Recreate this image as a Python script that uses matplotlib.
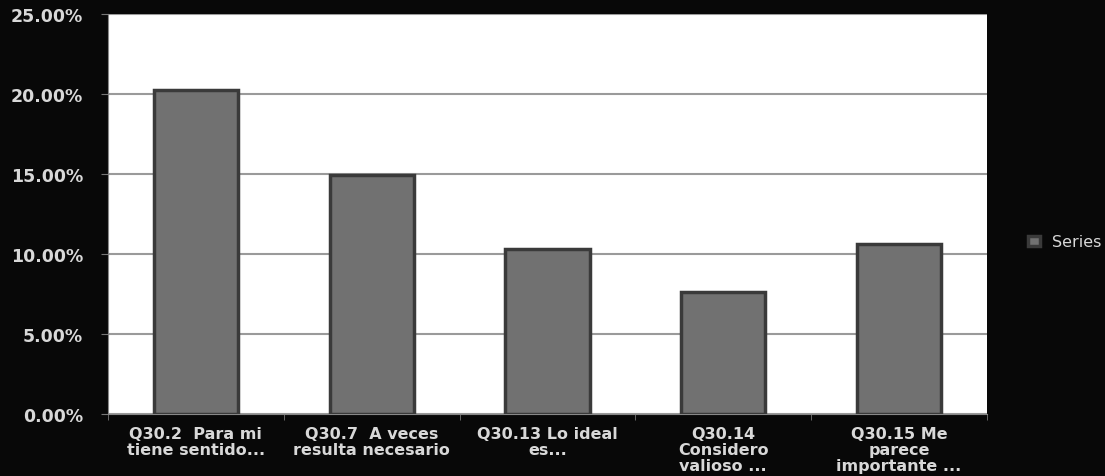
import numpy as np
import matplotlib.pyplot as plt
from matplotlib.ticker import FuncFormatter

categories = ["Q30.2  Para mi\ntiene sentido...",
              "Q30.7  A veces\nresulta necesario",
              "Q30.13 Lo ideal\nes...",
              "Q30.14\nConsidero\nvalioso ...",
              "Q30.15 Me\nparece\nimportante ..."]
values = [20.25, 14.95, 10.3, 7.6, 10.6]
series_name = "Series"

bg = "#080808"
txt = "#d8d8d8"

fig = plt.figure(figsize=(11.05, 4.77), dpi=100, facecolor=bg)
ax = fig.add_axes([108 / 1105, 62 / 477, 879 / 1105, 400 / 477])
ax.set_facecolor("white")

x = np.arange(len(categories))
ax.bar(x, values, width=0.48, color="#717171", edgecolor="#3a3a3a",
       linewidth=2.5, label=series_name, zorder=3)

ax.set_xlim(-0.5, len(categories) - 0.5)
ax.set_ylim(0, 25)
ax.set_yticks(np.arange(0, 26, 5))
ax.yaxis.set_major_formatter(FuncFormatter(lambda v, p: "%.2f%%" % v))
ax.grid(axis="y", color="#9a9a9a", linewidth=1.5, zorder=0)

ax.set_xticks(x)
ax.set_xticklabels(categories, fontsize=11.5, fontweight="bold", color=txt,
                   linespacing=1.05)
ax.set_xticks(np.arange(-0.5, len(categories)), minor=True)
ax.tick_params(axis="x", which="major", length=0, pad=9)
ax.tick_params(axis="x", which="minor", length=4, color="#777777")
ax.tick_params(axis="y", length=5, color="#777777", labelsize=12.5,
               labelcolor=txt, pad=13)
for lab in ax.get_yticklabels():
    lab.set_fontweight("bold")

for s in ["top", "right"]:
    ax.spines[s].set_visible(False)
ax.spines["left"].set_color("#888888")
ax.spines["bottom"].set_color("#888888")

leg = fig.legend(loc="center left", bbox_to_anchor=(1014 / 1105, 1 - 243 / 477),
                 frameon=False, fontsize=11.5, handlelength=0.7, handleheight=0.55,
                 handletextpad=0.8, labelcolor=txt)

fig.savefig("out.png", dpi=100, facecolor=bg)
